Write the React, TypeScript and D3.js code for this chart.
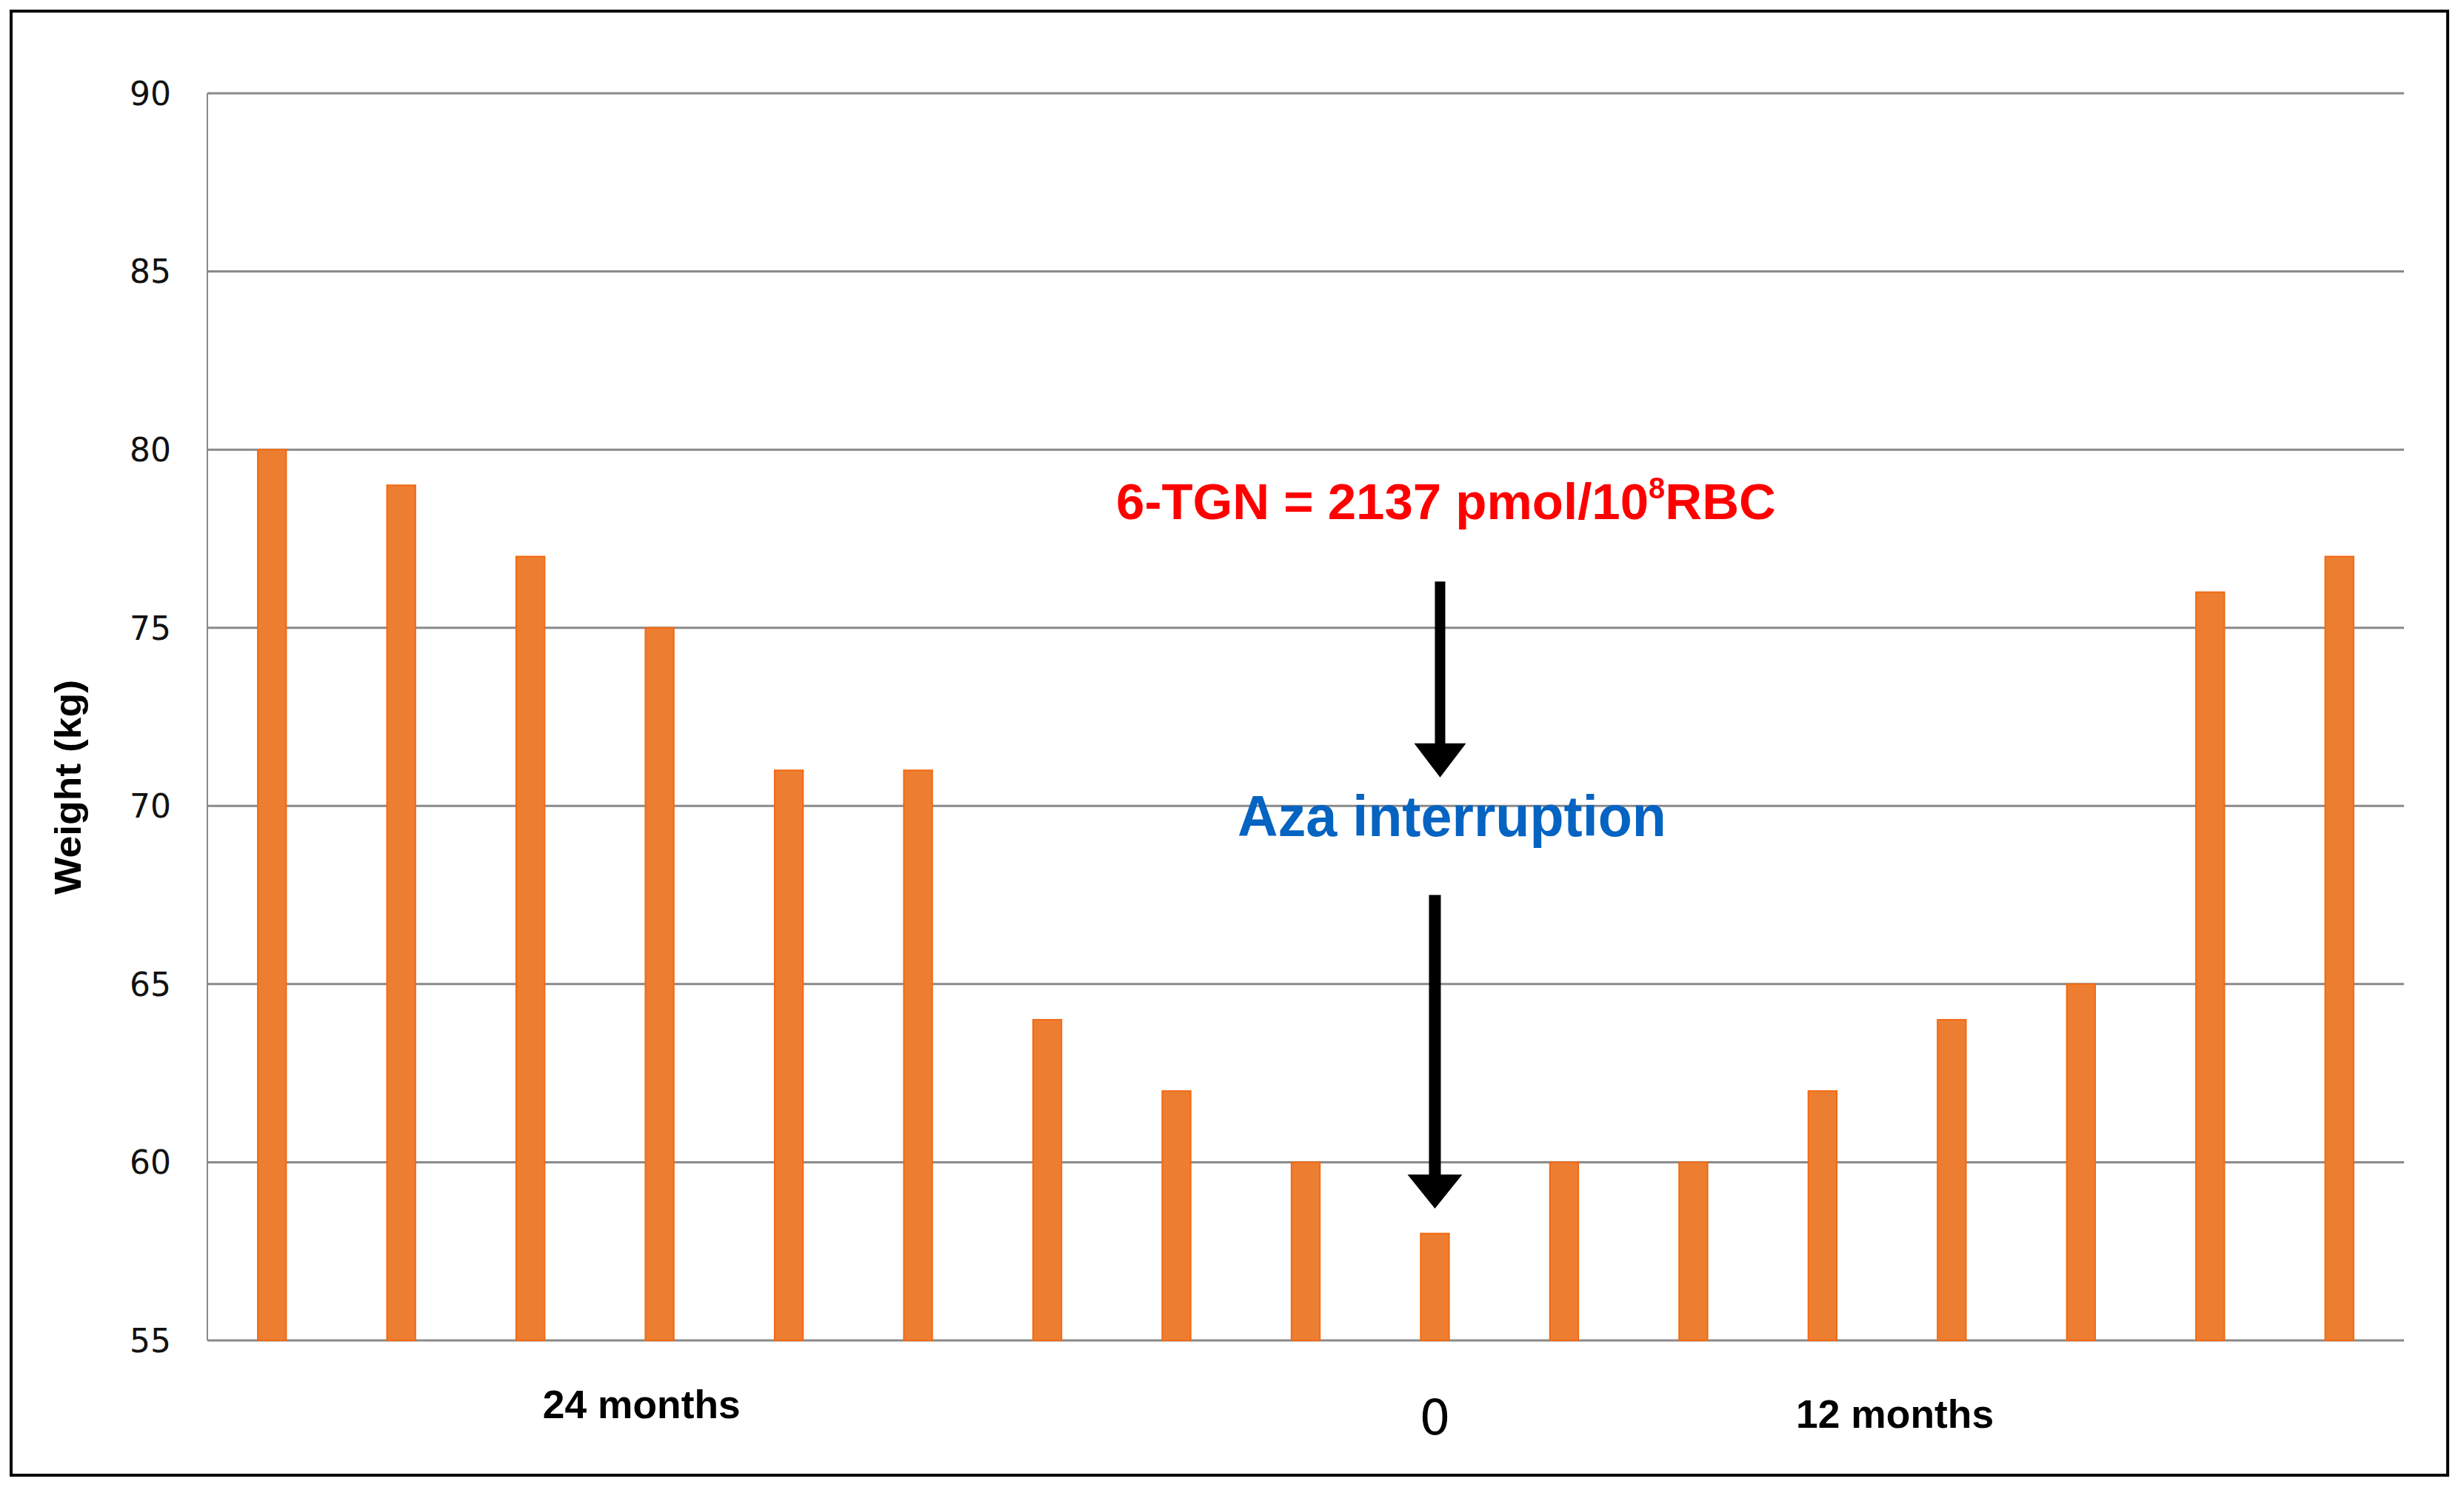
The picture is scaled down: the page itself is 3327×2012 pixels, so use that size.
import * as d3 from 'd3';

// chart data
const months = ['m1', 'm2', 'm3', 'm4', 'm5', 'm6', 'm7', 'm8', 'm9', 'm10', 'm11', 'm12', 'm13', 'm14', 'm15', 'm16', 'm17'];
const weights = [80, 79, 77, 75, 71, 71, 64, 62, 60, 58, 60, 60, 62, 64, 65, 76, 77];
const yTicks = [55, 60, 65, 70, 75, 80, 85, 90];
const yLabel = 'Weight (kg)';
const timeLabels = [
    { text: '24 months', at: 2.86, bold: true },
    { text: '0', at: 9, bold: false },
    { text: '12 months', at: 12.56, bold: true },
];

const W = 3327;
const H = 2012;
const margin = { top: 126, right: 81, bottom: 202, left: 280 };
const innerW = W - margin.left - margin.right;
const innerH = H - margin.top - margin.bottom;

const sans = '"Liberation Sans", Arial, sans-serif';

export default function App() {
    const x = d3.scaleBand<string>().domain(months).range([0, innerW]).paddingInner(0.78).paddingOuter(0.39);
    const y = d3.scaleLinear().domain([55, 90]).range([innerH, 0]);
    const step = x.step();
    const mid = (i: number) => (x(months[i]) as number) + x.bandwidth() / 2;
    const atIdx = (f: number) => mid(0) + f * step;

    // arrows drawn at the "0" bar
    const ax = mid(9);
    const arrow = (cx: number, top: number, tip: number, headH: number, headW: number, shaft: number) =>
        `M${cx - shaft / 2},${top} L${cx + shaft / 2},${top} L${cx + shaft / 2},${tip - headH} L${cx + headW / 2},${tip - headH} L${cx},${tip} L${cx - headW / 2},${tip - headH} L${cx - shaft / 2},${tip - headH} Z`;

    return (
        <svg width={W} height={H} style={{ position: 'absolute', left: 0, top: 0, background: '#fff' }}>
            <rect x={15} y={15} width={3290} height={1977} fill="#fff" stroke="#000" strokeWidth={4} />
            <g transform={`translate(${margin.left},${margin.top})`}>
                {yTicks.map((t) => (
                    <g key={t}>
                        <line x1={0} x2={innerW} y1={y(t)} y2={y(t)} stroke="#8a8a8a" strokeWidth={3} />
                        <text
                            x={-49}
                            y={y(t)}
                            dy="0.36em"
                            textAnchor="end"
                            fontFamily='"DejaVu Sans", sans-serif'
                            fontSize={44}
                            fill="#111"
                        >
                            {t}
                        </text>
                    </g>
                ))}
                <line x1={0} x2={0} y1={0} y2={innerH} stroke="#8a8a8a" strokeWidth={2} />
                {weights.map((v, i) => (
                    <rect
                        key={i}
                        x={x(months[i])}
                        y={y(v)}
                        width={x.bandwidth()}
                        height={innerH - y(v)}
                        fill="#ED7D31"
                        stroke="#F26A14"
                        strokeWidth={2}
                    />
                ))}
                <path d={arrow(ax + 7, y(76.3), y(70.8), 46, 70, 14)} fill="#000" />
                <path d={arrow(ax, y(67.5), y(58.7), 46, 74, 16)} fill="#000" />
                <text
                    x={ax + 15}
                    y={y(78.05)}
                    textAnchor="middle"
                    fontFamily={sans}
                    fontWeight="bold"
                    fontSize={69}
                    fill="#FF0000"
                >
                    6-TGN = 2137 pmol/10
                    <tspan fontSize={40} dy={-28}>8</tspan>
                    <tspan dy={28}>RBC</tspan>
                </text>
                <text
                    x={ax + 23}
                    y={y(69.15)}
                    textAnchor="middle"
                    fontFamily={sans}
                    fontWeight="bold"
                    fontSize={78}
                    textLength={579}
                    lengthAdjust="spacingAndGlyphs"
                    fill="#0563C1"
                >
                    Aza interruption
                </text>
                {timeLabels.map((l) => (
                    <text
                        key={l.text}
                        x={atIdx(l.at)}
                        y={l.bold ? (l.at < 5 ? innerH + 105 : innerH + 118) : innerH + 127}
                        textAnchor="middle"
                        fontFamily={l.bold ? sans : '"DejaVu Sans", sans-serif'}
                        fontWeight={l.bold ? 'bold' : 'normal'}
                        fontSize={l.bold ? 54 : 66}
                        textLength={l.bold ? 267 : undefined}
                        lengthAdjust="spacingAndGlyphs"
                        fill="#000"
                    >
                        {l.text}
                    </text>
                ))}
                <text
                    transform={`translate(${91 - margin.left},${1063 - margin.top}) rotate(-90)`}
                    textAnchor="middle"
                    dy="0.35em"
                    fontFamily={sans}
                    fontWeight="bold"
                    fontSize={50}
                    textLength={290}
                    lengthAdjust="spacingAndGlyphs"
                    fill="#000"
                >
                    {yLabel}
                </text>
            </g>
        </svg>
    );
}
